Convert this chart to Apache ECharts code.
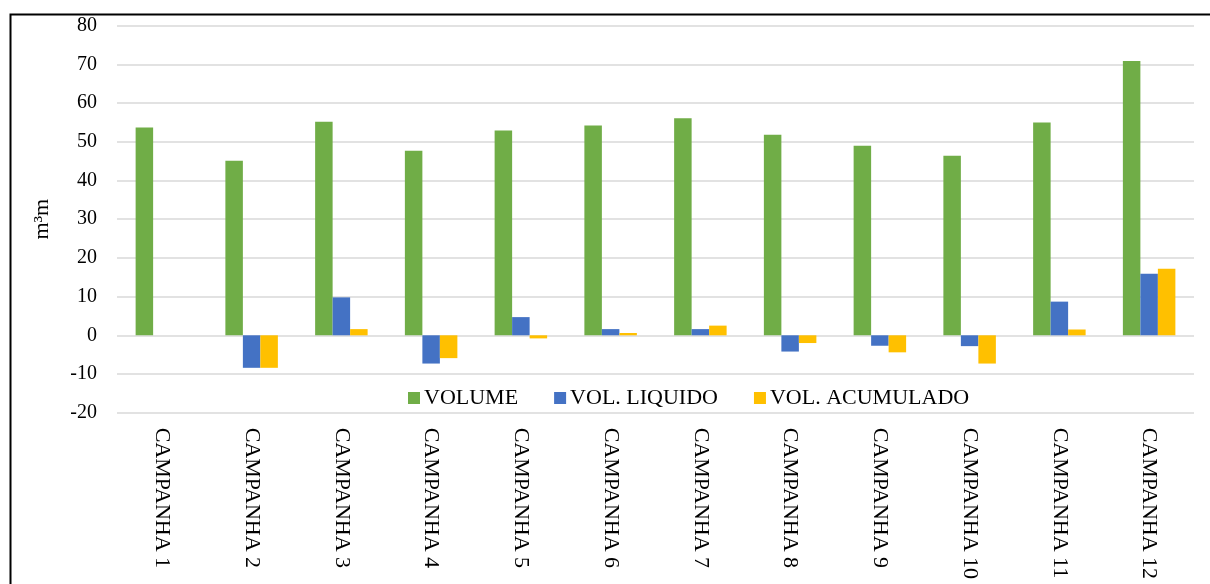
<!DOCTYPE html>
<html>
<head>
<meta charset="utf-8">
<script src="https://cdn.jsdelivr.net/npm/echarts@6/dist/echarts.min.js"></script>
<style>
  html, body { margin: 0; padding: 0; background: #fff; }
  #chart { width: 1210px; height: 584px; }
</style>
</head>
<body>
<div id="chart"></div>
<script>
// Campaign categories
const categories = ['CAMPANHA 1', 'CAMPANHA 2', 'CAMPANHA 3', 'CAMPANHA 4', 'CAMPANHA 5', 'CAMPANHA 6',
                    'CAMPANHA 7', 'CAMPANHA 8', 'CAMPANHA 9', 'CAMPANHA 10', 'CAMPANHA 11', 'CAMPANHA 12'];

// Volumes per campaign (m³/m)
const volume       = [53.7, 45.1, 55.2, 47.7, 52.9, 54.2, 56.1, 51.8, 49.0, 46.4, 55.0, 70.9];
const volLiquido   = [0, -8.4, 9.8, -7.3, 4.7, 1.6, 1.6, -4.2, -2.7, -2.8, 8.7, 15.9];
const volAcumulado = [0, -8.4, 1.6, -5.9, -0.8, 0.6, 2.5, -2.0, -4.4, -7.3, 1.5, 17.2];

const seriesNames = ['VOLUME', 'VOL. LIQUIDO', 'VOL. ACUMULADO'];
const colors = ['#70AD47', '#4472C4', '#FFC000'];

const FONT = "'Liberation Serif', 'Times New Roman', serif";

const chart = echarts.init(document.getElementById('chart'));

chart.setOption({
  animation: false,
  color: colors,
  textStyle: { fontFamily: FONT, color: '#000' },
  graphic: [{
    type: 'rect',
    left: 8, top: 12,
    shape: { width: 1300, height: 700 },
    style: { fill: 'none', stroke: '#000', lineWidth: 2 },
    silent: true,
    z: -10
  }],
  grid: { left: 117, right: 16, top: 25.7, bottom: 171.3, containLabel: false },
  legend: {
    data: seriesNames,
    left: 403,
    top: 382,
    icon: 'rect',
    itemWidth: 12,
    itemHeight: 12,
    itemGap: 36,
    textStyle: { fontFamily: FONT, fontSize: 22, color: '#000', padding: [0, 0, 0, -1] }
  },
  xAxis: {
    type: 'category',
    data: categories,
    axisLine: { show: false },
    axisTick: { show: false },
    axisLabel: {
      rotate: -90,
      margin: 15,
      interval: 0,
      fontFamily: FONT,
      fontSize: 22,
      color: '#000'
    }
  },
  yAxis: {
    type: 'value',
    min: -20, max: 80, interval: 10,
    name: 'm³m',
    nameLocation: 'middle',
    nameRotate: 90,
    nameGap: 64,
    nameTextStyle: { fontFamily: FONT, fontSize: 22, color: '#000' },
    axisLine: { show: false },
    axisTick: { show: false },
    axisLabel: { margin: 20, fontFamily: FONT, fontSize: 20, color: '#000' },
    splitLine: { lineStyle: { color: '#d9d9d9', width: 1.5 } }
  },
  series: [
    { name: seriesNames[0], type: 'bar', data: volume, barWidth: 17.5, barGap: '0%' },
    { name: seriesNames[1], type: 'bar', data: volLiquido, barWidth: 17.5, barGap: '0%' },
    { name: seriesNames[2], type: 'bar', data: volAcumulado, barWidth: 17.5, barGap: '0%' }
  ]
});
</script>
</body>
</html>
